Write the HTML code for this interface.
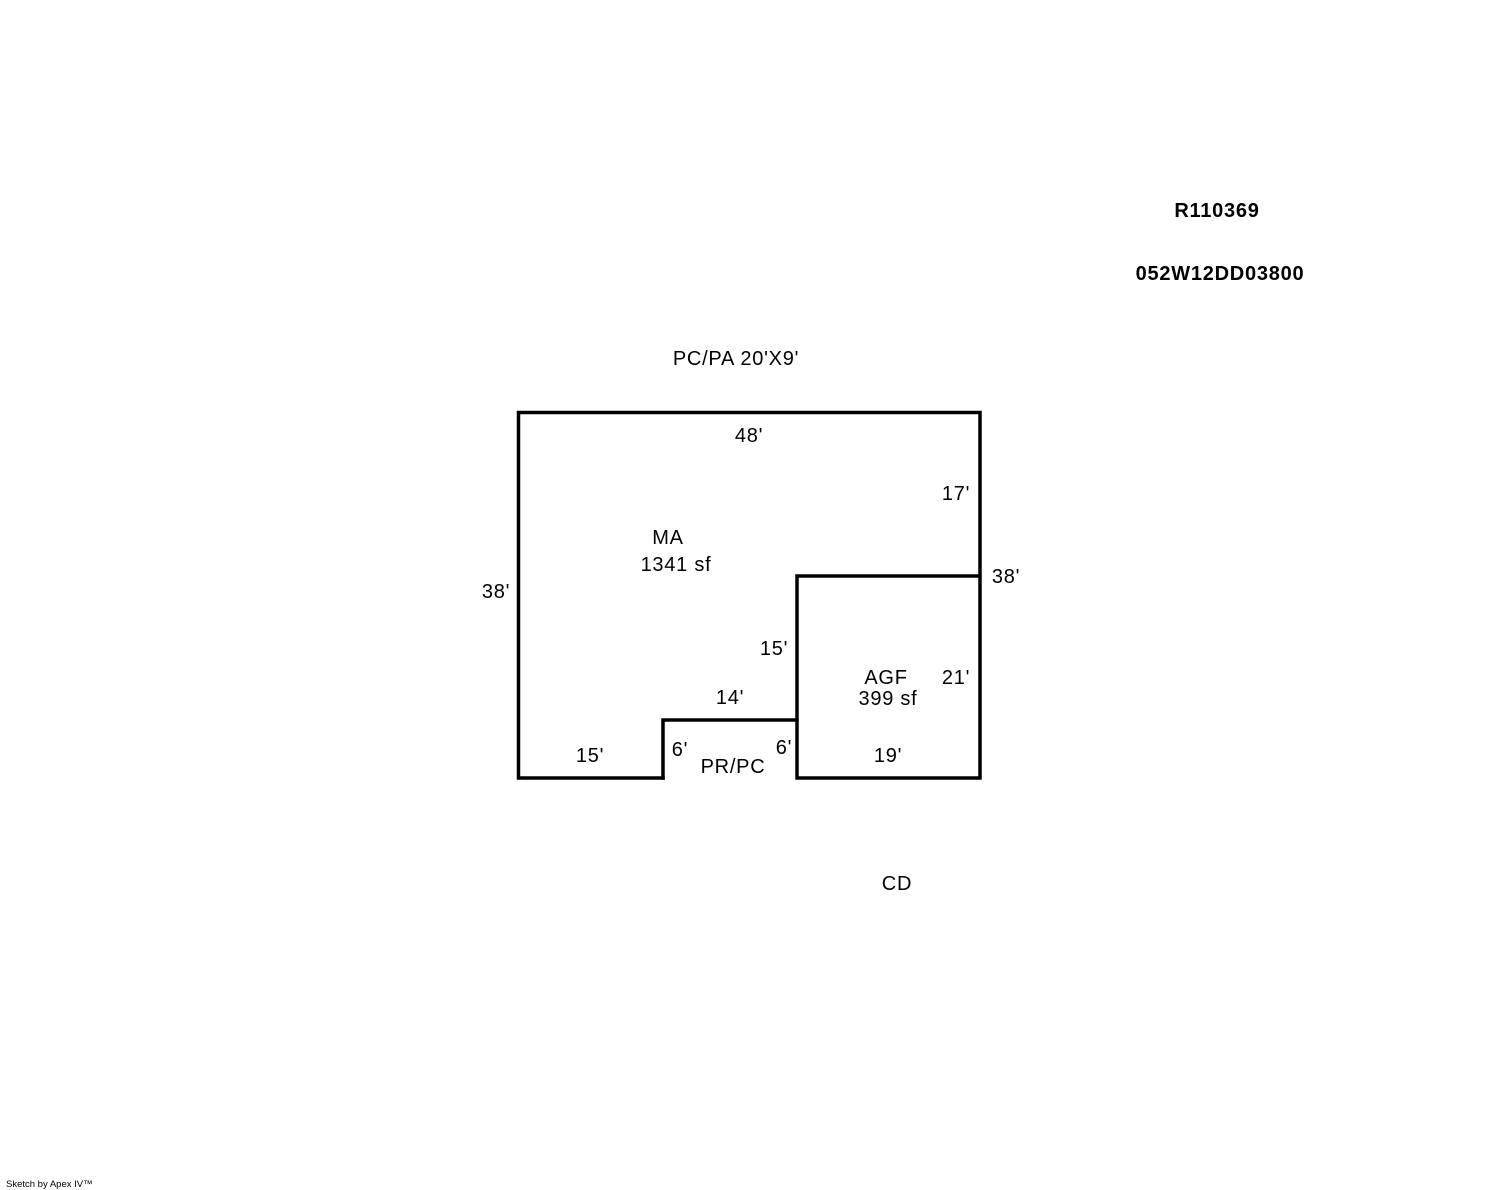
<!DOCTYPE html>
<html><head><meta charset="utf-8"><style>
html,body{margin:0;padding:0;background:#fff;}
svg{display:block;}
text{font-family:"Liberation Sans",Arial,sans-serif;font-size:20px;letter-spacing:0.75px;fill:#000;text-anchor:middle;}
</style></head><body>
<svg width="1488" height="1190" viewBox="0 0 1488 1190" xmlns="http://www.w3.org/2000/svg">
<g fill="none" stroke="#000" stroke-width="3.5" stroke-linejoin="miter" stroke-linecap="square">
<polyline points="663,778 518.5,778 518.5,412.5 980,412.5 980,778 797,778 797,576 980,576"/>
<polyline points="663,778 663,720 797,720"/>
</g>
<text x="1217" y="217" style="font-weight:bold">R110369</text>
<text x="1220" y="280" style="font-weight:bold">052W12DD03800</text>
<text x="736" y="365">PC/PA 20'X9'</text>
<text x="749" y="442">48'</text>
<text x="956" y="500">17'</text>
<text x="668" y="544">MA</text>
<text x="676" y="571">1341 sf</text>
<text x="496" y="598">38'</text>
<text x="1006" y="583">38'</text>
<text x="774" y="655">15'</text>
<text x="886" y="684">AGF</text>
<text x="956" y="684">21'</text>
<text x="730" y="704">14'</text>
<text x="888" y="705">399 sf</text>
<text x="590" y="762">15'</text>
<text x="680" y="756">6'</text>
<text x="784" y="754">6'</text>
<text x="888" y="762">19'</text>
<text x="733" y="773">PR/PC</text>
<text x="897" y="890">CD</text>
<text x="6" y="1187" style="font-size:9.5px;letter-spacing:0;text-anchor:start">Sketch by Apex IV™</text>
</svg>
</body></html>
